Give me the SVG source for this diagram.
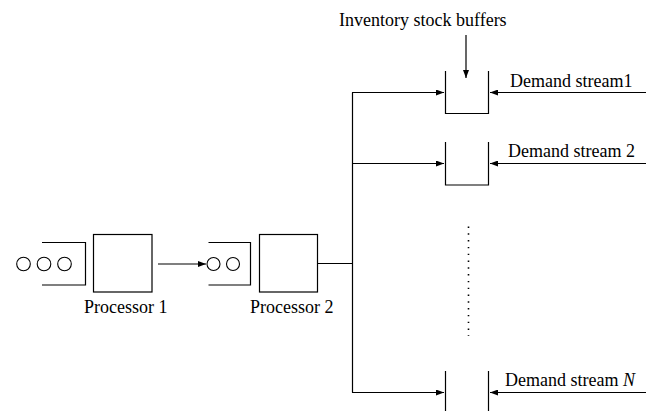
<svg xmlns="http://www.w3.org/2000/svg" width="646" height="412" viewBox="0 0 646 412">
<defs>
<marker id="ah" markerWidth="8" markerHeight="6" refX="8" refY="3" orient="auto" markerUnits="userSpaceOnUse">
<path d="M0,0 L8,3 L0,6 Z" fill="#000"/>
</marker>
<style>
.s{fill:none;stroke:#000;stroke-width:1.2}
.t{font-family:"Liberation Serif","Times New Roman",serif;font-size:18px;fill:#000}
.c{fill:none;stroke:#000;stroke-width:1.1}
</style>
</defs>
<rect width="646" height="412" fill="#fff"/>
<g id="queue1">
<path class="s" d="M42,242.5 H85.5 V285 H42"/>
<circle class="c" cx="23.5" cy="264" r="6.8"/>
<circle class="c" cx="44" cy="264" r="6.8"/>
<circle class="c" cx="64.5" cy="264" r="6.8"/>
</g>
<g id="processor1">
<rect class="s" x="93.5" y="234.5" width="58.5" height="57.5"/>
<text class="t" x="84" y="313">Processor 1</text>
</g>
<g id="queue2">
<path class="s" d="M208.5,242.5 H250.5 V285 H208.5"/>
<circle class="c" cx="213.5" cy="264" r="6.5"/>
<circle class="c" cx="233" cy="264" r="6.5"/>
</g>
<g id="processor2">
<rect class="s" x="259.5" y="234.5" width="58" height="57.5"/>
<text class="t" x="250" y="313">Processor 2</text>
</g>
<g id="buffer1">
<path class="s" d="M445.5,71 V113.5 H488.5 V71"/>
</g>
<g id="buffer2">
<path class="s" d="M445.5,142 V185 H488.5 V142"/>
</g>
<g id="bufferN">
<path class="s" d="M445.5,371 V411"/>
<path class="s" d="M488.5,371 V411"/>
</g>
<g id="dots">
<line x1="468.5" y1="226.5" x2="468.5" y2="336" stroke="#000" stroke-width="1.6" stroke-dasharray="1.4 5.4"/>
</g>
<g id="labels">
<text class="t" x="339" y="26">Inventory stock buffers</text>
<text class="t" x="510" y="87">Demand stream1</text>
<text class="t" x="508" y="157">Demand stream 2</text>
<text class="t" x="505" y="385.5">Demand stream <tspan font-style="italic">N</tspan></text>
</g>
<g id="connectors">
<line class="s" x1="158" y1="264" x2="206" y2="264" marker-end="url(#ah)"/>
<path class="s" d="M317.5,263.5 H352.5"/>
<path class="s" d="M352.5,92.5 V392.5"/>
<line class="s" x1="352" y1="92.5" x2="444" y2="92.5" marker-end="url(#ah)"/>
<line class="s" x1="352" y1="163.5" x2="444" y2="163.5" marker-end="url(#ah)"/>
<line class="s" x1="352" y1="392.5" x2="444" y2="392.5" marker-end="url(#ah)"/>
<line class="s" x1="646" y1="92.5" x2="490" y2="92.5" marker-end="url(#ah)"/>
<line class="s" x1="646" y1="163.5" x2="490" y2="163.5" marker-end="url(#ah)"/>
<line class="s" x1="646" y1="392.5" x2="490" y2="392.5" marker-end="url(#ah)"/>
<line class="s" x1="466" y1="35" x2="466" y2="78" marker-end="url(#ah)"/>
</g>
</svg>
